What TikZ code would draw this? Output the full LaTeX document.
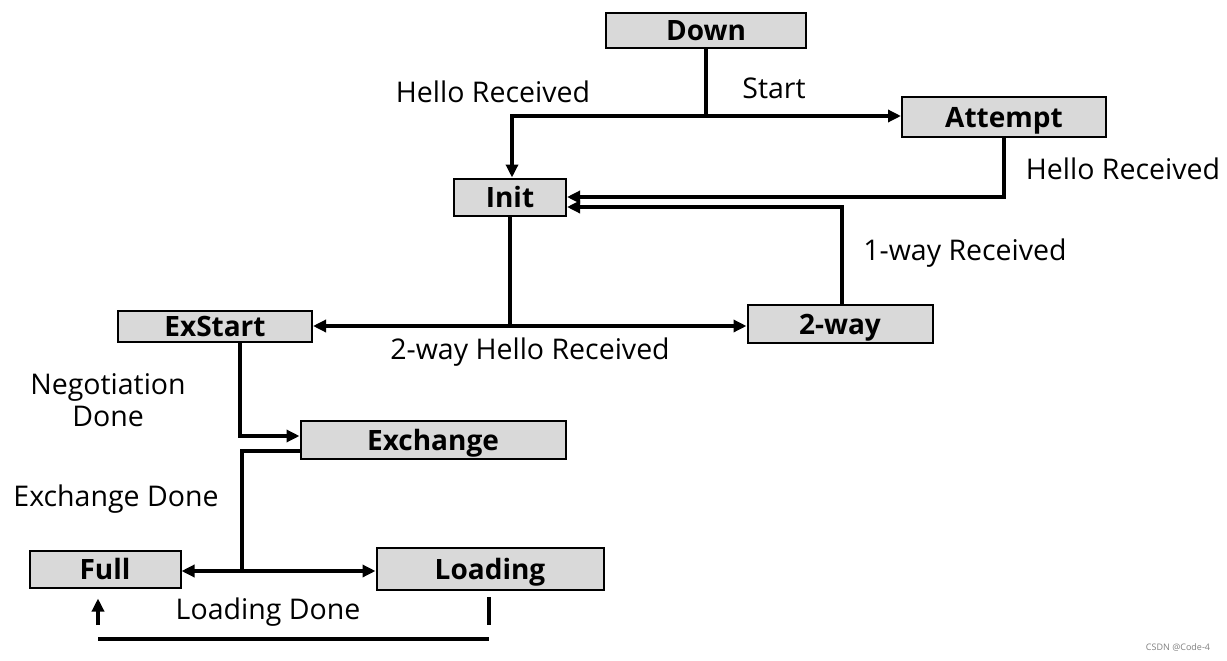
\documentclass[tikz,border=0pt]{standalone}
\usepackage{fontspec}
\setmainfont{Open Sans}
\usetikzlibrary{arrows.meta}

\definecolor{boxgray}{RGB}{217,217,217}

\tikzset{
    state/.style={draw, line width=2pt, fill=boxgray, inner sep=0pt,
        text height=20pt, text depth=0pt,
        font=\fontsize{28}{32}\selectfont\bfseries},
    wire/.style={line width=3.5pt},
    link/.style={wire, -{Triangle[length=13pt,width=12pt]}},
    lbl/.style={font=\fontsize{28.5}{32}\selectfont, align=center},
}

\begin{document}
\begin{tikzpicture}[x=1pt, y=-1pt]
    \useasboundingbox (0,0) rectangle (1227,661);

    % states
    \node[state, minimum width=200, minimum height=35] (down) at (706,31) {Down};
    \node[state, minimum width=204, minimum height=39] (attempt) at (1004,117) {Attempt};
    \node[state, minimum width=112, minimum height=37] (init) at (510,197) {Init};
    \node[state, minimum width=194, minimum height=31] (exstart) at (215,326) {ExStart};
    \node[state, minimum width=185, minimum height=38] (twoway) at (840,324) {2-way};
    \node[state, minimum width=265, minimum height=38] (exchange) at (433,440) {Exchange};
    \node[state, minimum width=151, minimum height=37] (full) at (105,569) {Full};
    \node[state, minimum width=227, minimum height=42] (loading) at (490,569) {Loading};

    % labels
    \node[lbl] (hello1) at (493,92) {Hello Received};
    \node[lbl] (start) at (774,88) {Start};
    \node[lbl] (hello2) at (1123,169) {Hello Received};
    \node[lbl] (oneway) at (965,253) {1-way Received};
    \node[lbl] (twohello) at (530,352) {2-way Hello Received};
    \node[lbl] (nego) at (108,400) {Negotiation\\Done};
    \node[lbl] (exdone) at (116,499) {Exchange Done};
    \node[lbl] (lddone) at (268,612) {Loading Done};
    \node[font=\fontsize{9}{10}\selectfont, text=gray] (mark) at (1178,647) {CSDN @Code-4};

    % Down -> Attempt / Init
    \coordinate (s1) at (706,116);
    \draw[wire] (down.south) -- (s1);
    \draw[link] (s1) -- (s1 -| attempt.west);
    \draw[link] (s1) -| ([xshift=2pt]init.north);

    % back to Init
    \draw[link] (attempt.south) |- (init.east);
    \draw[link] ([xshift=2pt]twoway.north) |- ([yshift=-10pt]init.east);

    % Init -> ExStart / 2-way
    \coordinate (s2) at (510,326);
    \draw[wire] (init.south) -- (s2);
    \draw[link] (s2) -- (exstart.east);
    \draw[link] (s2) -- (s2 -| twoway.west);

    % ExStart -> Exchange
    \draw[link] ([xshift=25pt]exstart.south) |- ([yshift=4pt]exchange.west);

    % Exchange -> Full / Loading
    \coordinate (s3) at (242,571);
    \draw[wire] ([yshift=-11pt]exchange.west) -| (s3);
    \draw[link] (s3) -- (s3 -| full.east);
    \draw[link] (s3) -- (s3 -| loading.west);

    % Loading -> Full
    \coordinate (l1) at (489,597);
    \coordinate (l2) at (489,625);
    \coordinate (l3) at (98,639);
    \coordinate (l4) at (98,625);
    \draw[wire] (l1) -- (l2);
    \draw[wire] (l3) -- (l3 -| l2);
    \draw[link] (l4) -- ([shift={(-7pt,-10pt)}]full.south);
\end{tikzpicture}
\end{document}
